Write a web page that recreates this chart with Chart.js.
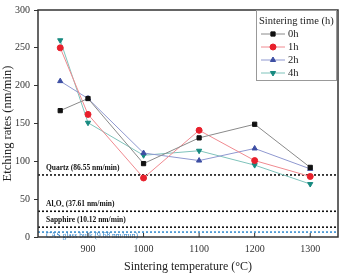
<!DOCTYPE html>
<html>
<head>
  <title>Etching rates vs sintering temperature</title>
  <style>
    html, body { margin: 0; padding: 0; background: #fff; }
    #wrap { width: 343px; height: 274px; }
  </style>
</head>
<body>
<div id="wrap">
  <canvas id="etchChart" width="343" height="274"></canvas>
</div>

<script src="https://cdn.jsdelivr.net/npm/chart.js"></script>
<script>
  // temperatures (first point sits left of 900 on the axis)
  const temps = [850, 900, 1000, 1100, 1200, 1300];
  const xTicks = [900, 1000, 1100, 1200, 1300];
  const yTicks = [0, 50, 100, 150, 200, 250, 300];

  const rate0h = [167, 183, 97, 131, 149, 92];
  const rate1h = [250, 162, 78, 141, 101, 80];
  const rate2h = [206, 183, 111, 101, 117, 90];
  const rate4h = [260, 151, 108, 114, 95, 70];

  const seriesNames = ['0h', '1h', '2h', '4h'];

  // reference levels as drawn in the figure
  const refNames = ['Quartz (86.55 nm/min)', 'Al\u2082O\u2083 (37.61 nm/min)', 'Sapphire (10.12 nm/min)', 'CAS glass bulk (9.68 nm/min)'];
  const refValues = [82, 34, 13, 6.5];

  const serif = '"Liberation Serif", "DejaVu Serif", serif';

  function makeSet(label, data, color, line, shape) {
    return {
      label: label,
      data: temps.map((t, i) => ({ x: t, y: data[i] })),
      borderColor: line,
      backgroundColor: color,
      pointBorderColor: color,
      pointBackgroundColor: color,
      pointStyle: shape,
      pointRadius: 3,
      pointBorderWidth: 1,
      borderWidth: 1,
      tension: 0
    };
  }

  const datasets = [
    makeSet('0h', rate0h, '#111111', '#8a8a8a', 'rect'),
    makeSet('1h', rate1h, '#e8202c', '#f08a90', 'circle'),
    makeSet('2h', rate2h, '#3d4ea3', '#8f98d0', 'triangle'),
    makeSet('4h', rate4h, '#178a80', '#7fc3bb', 'triangle')
  ];
  // 4h uses a downward triangle
  datasets[3].pointRotation = 180;

  const decorPlugin = {
    id: 'decor',
    beforeDatasetsDraw(chart) {
      const ctx = chart.ctx;
      const a = chart.chartArea;
      const y = chart.scales.y;
      ctx.save();
      // reference lines
      refValues.forEach((v, i) => {
        const py = y.getPixelForValue(v);
        const blue = i === 3;
        ctx.strokeStyle = blue ? '#3a8fd0' : '#111';
        ctx.lineWidth = 1.6;
        ctx.setLineDash([2, 2]);
        ctx.beginPath();
        ctx.moveTo(a.left, py);
        ctx.lineTo(a.right, py);
        ctx.stroke();
        ctx.setLineDash([]);
        ctx.font = (blue ? '' : 'bold ') + '7.5px ' + serif;
        ctx.fillStyle = blue ? '#2f7fc4' : '#111';
        ctx.textAlign = 'left';
        ctx.textBaseline = blue ? 'top' : 'bottom';
        ctx.fillText(refNames[i], a.left + 8, blue ? py + 0.5 : py - 3);
      });
      ctx.restore();
    },
    afterDraw(chart) {
      const ctx = chart.ctx;
      const a = chart.chartArea;
      const x = chart.scales.x;
      ctx.save();
      // frame
      ctx.strokeStyle = '#333';
      ctx.lineWidth = 1.5;
      ctx.strokeRect(a.left, a.top, a.right - a.left, a.bottom - a.top);
      // inward x ticks
      ctx.lineWidth = 1;
      xTicks.forEach(t => {
        const px = x.getPixelForValue(t);
        ctx.beginPath();
        ctx.moveTo(px, a.bottom);
        ctx.lineTo(px, a.bottom - 4);
        ctx.stroke();
      });
      // legend
      const lx = 256, ly = 10, lw = 80, lh = 70;
      ctx.fillStyle = '#fff';
      ctx.fillRect(lx, ly, lw, lh);
      ctx.strokeStyle = '#999';
      ctx.lineWidth = 1;
      ctx.strokeRect(lx + 0.5, ly + 0.5, lw, lh);
      ctx.fillStyle = '#222';
      ctx.font = '10.5px ' + serif;
      ctx.textBaseline = 'middle';
      ctx.textAlign = 'left';
      ctx.fillText('Sintering time (h)', lx + 3, ly + 11);
      chart.data.datasets.forEach((ds, i) => {
        const cy = ly + 24 + i * 13;
        ctx.strokeStyle = ds.borderColor;
        ctx.lineWidth = 1;
        ctx.beginPath();
        ctx.moveTo(lx + 5, cy);
        ctx.lineTo(lx + 29, cy);
        ctx.stroke();
        ctx.fillStyle = ds.backgroundColor;
        ctx.strokeStyle = ds.backgroundColor;
        Chart.helpers.drawPoint(ctx, {
          pointStyle: ds.pointStyle,
          rotation: ds.pointRotation || 0,
          radius: 3,
          borderWidth: 1
        }, lx + 17, cy);
        ctx.fillStyle = '#222';
        ctx.font = '10.5px ' + serif;
        ctx.fillText(seriesNames[i], lx + 32, cy);
      });
      ctx.restore();
    }
  };

  new Chart(document.getElementById('etchChart'), {
    type: 'line',
    data: { datasets: datasets },
    plugins: [decorPlugin],
    options: {
      responsive: false,
      animation: false,
      devicePixelRatio: 1,
      layout: { padding: { left: 0, right: 4, top: 4, bottom: 0 } },
      plugins: {
        legend: { display: false },
        tooltip: { enabled: false }
      },
      scales: {
        x: {
          type: 'linear',
          min: 810,
          max: 1350,
          afterBuildTicks: s => { s.ticks = xTicks.map(v => ({ value: v })); },
          afterFit: s => { s.height = 37; },
          grid: { display: false, drawTicks: false },
          border: { display: false },
          ticks: {
            padding: 6,
            color: '#333',
            font: { family: serif, size: 10 },
            maxRotation: 0,
            callback: v => String(v)
          },
          title: {
            display: true,
            text: 'Sintering temperature (\u00B0C)',
            color: '#222',
            font: { family: serif, size: 12 },
            padding: { top: 4, bottom: 0 }
          }
        },
        y: {
          min: 0,
          max: 300,
          afterBuildTicks: s => { s.ticks = yTicks.map(v => ({ value: v })); },
          afterFit: s => { s.width = 38; },
          grid: { drawOnChartArea: false, tickLength: 4, color: '#333' },
          border: { display: false },
          ticks: {
            padding: 4,
            color: '#333',
            font: { family: serif, size: 10 },
            callback: v => String(v)
          },
          title: {
            display: true,
            text: 'Etching rates (nm/min)',
            color: '#222',
            font: { family: serif, size: 12.5 },
            padding: { top: 0, bottom: 2 }
          }
        }
      }
    }
  });
</script>
</body>
</html>
